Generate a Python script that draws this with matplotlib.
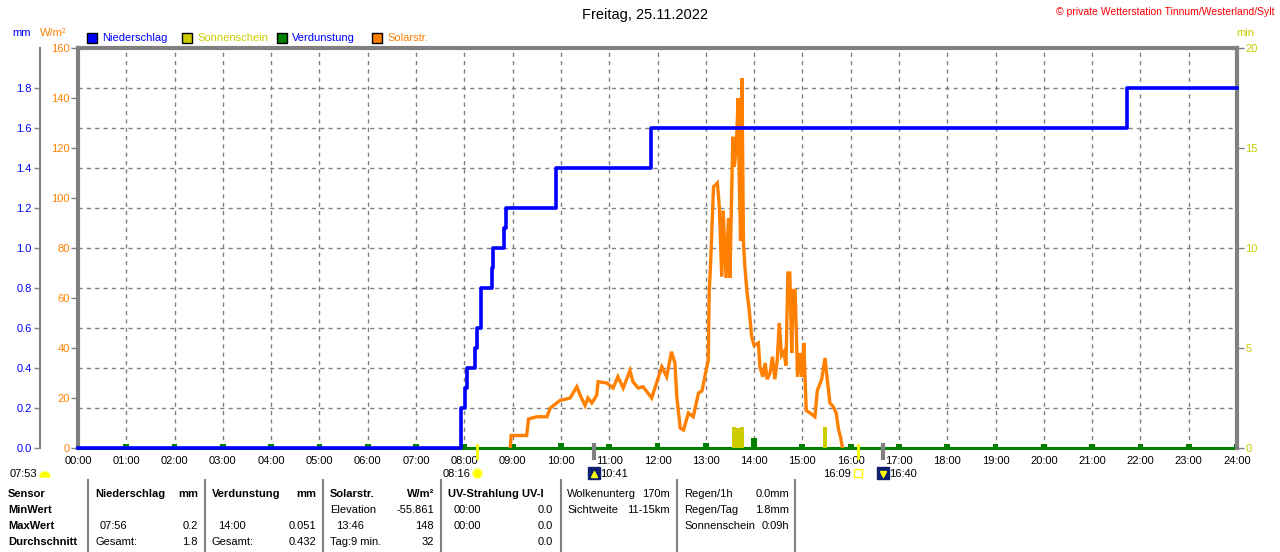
import numpy as np
import matplotlib
matplotlib.use('Agg')
import matplotlib.pyplot as plt
import matplotlib.patches as mpatches
import matplotlib.transforms as mtransforms

plt.rcParams['font.family'] = ['Liberation Sans', 'DejaVu Sans']

# ---- data -------------------------------------------------------------
hour_labels = ['%02d:00' % h for h in range(25)]
mm_ticks = [0.0, 0.2, 0.4, 0.6, 0.8, 1.0, 1.2, 1.4, 1.6, 1.8]
wm2_ticks = [0, 20, 40, 60, 80, 100, 120, 140, 160]
min_ticks = [0, 5, 10, 15, 20]

# Niederschlag (cumulative, mm)
rain_t = [0, 7.925, 8.01, 8.05, 8.22, 8.26, 8.34, 8.58, 8.60, 8.82, 8.86,
          9.89, 11.87, 21.72, 24]
rain_mm = [0, 0.2, 0.3, 0.4, 0.5, 0.6, 0.8, 0.9, 1.0, 1.1, 1.2,
           1.4, 1.6, 1.8, 1.8]

# Verdunstung per hour (mm)
evap_h = list(range(1, 25))
evap_mm = [0.02, 0.021, 0.021, 0.02, 0.021, 0.021, 0.02, 0.02, 0.022, 0.023,
           0.022, 0.023, 0.024, 0.051, 0.022, 0.021, 0.02, 0.02, 0.02, 0.02,
           0.02, 0.02, 0.02, 0.02]

# Sonnenschein (min)
sun_t = [13.59, 13.67, 13.75, 15.465]
sun_min = [1.05, 1.0, 1.05, 1.05]
sun_w = [0.08, 0.08, 0.08, 0.07]

# Solarstrahlung (W/m2)
sol_t = [8.95, 8.97, 9.29, 9.33, 9.50, 9.71, 9.78, 9.98, 10.19, 10.33, 10.40,
         10.50, 10.56, 10.64, 10.74, 10.77, 10.95, 11.08, 11.18, 11.29, 11.43,
         11.49, 11.60, 11.70, 11.88, 11.98, 12.09, 12.19, 12.29, 12.36, 12.40,
         12.47, 12.54, 12.64, 12.74, 12.85, 12.92, 12.98, 13.05, 13.07, 13.10,
         13.16, 13.24, 13.28, 13.33, 13.36, 13.42, 13.47, 13.50, 13.56, 13.59,
         13.63, 13.67, 13.69, 13.72, 13.75, 13.78, 13.81, 13.85, 13.90, 13.95,
         14.00, 14.09, 14.12, 14.18, 14.23, 14.27, 14.33, 14.38, 14.43, 14.48,
         14.52, 14.57, 14.62, 14.66, 14.70, 14.74, 14.78, 14.81, 14.85, 14.90,
         14.95, 14.99, 15.03, 15.08, 15.16, 15.26, 15.31, 15.40, 15.47, 15.50,
         15.57, 15.64, 15.70, 15.75, 15.79, 15.83]
sol_w = [0, 5, 5, 11.6, 12.5, 12.5, 16, 19, 20, 24.5, 21,
         17, 20, 18, 21, 26.5, 26, 24, 28.5, 24, 31,
         26.5, 24, 24.5, 20, 26, 32.5, 28.5, 38.5, 34, 20.5,
         8, 7.2, 14, 12.5, 22, 22.8, 28.5, 35, 62, 74,
         104.5, 106, 96.5, 68.5, 95, 68, 92, 68, 124.5, 112.5,
         120, 140, 110, 83, 148, 82, 72.5, 63, 55, 44.5,
         41, 42, 32.5, 28.5, 34, 27.5, 30, 36.5, 27.5, 35,
         50, 37, 38.5, 33, 70, 70, 38, 63, 63, 28.5,
         38, 28.5, 42, 15, 14, 12.5, 23, 27.5, 36, 30,
         18, 16.5, 14, 7.2, 4.5, 0]

# sun / moon events below the time axis
ev_t = [8 + 16 / 60, 10 + 41 / 60, 16 + 9 / 60, 16 + 40 / 60]
ev_lab = ['08:16', '10:41', '16:09', '16:40']
ev_col = ['#FFFF00', '#808080', '#FFFF00', '#808080']

BLUE = '#0000FF'
ORANGE = '#FF8000'
OLIVE = '#CCCC00'
GREEN = '#008000'
GREY = '#808080'

# ---- figure -----------------------------------------------------------
W, H = 1280, 552
fig = plt.figure(figsize=(W / 100, H / 100), dpi=100)
L, R, T, B = 78, 1237, 48, 448
rect = [L / W, 1 - B / H, (R - L) / W, (B - T) / H]

# base axes: mm scale, grid
axm = fig.add_axes(rect)
axm.set_xlim(0, 24)
axm.set_ylim(0, 2.0)
axm.set_yticks(mm_ticks)
axm.set_yticklabels(['%.1f' % v for v in mm_ticks])
axm.set_xticks(range(25))
axm.set_xticklabels(hour_labels)
axm.tick_params(axis='x', length=0, pad=6, labelsize=8)
axm.tick_params(axis='y', color=GREY, labelcolor=BLUE, length=4, width=1,
                labelsize=8, pad=2)
for s in ['top', 'right', 'bottom']:
    axm.spines[s].set_visible(False)
axm.spines['left'].set_position(('outward', 27.4))
axm.spines['left'].set_color(GREY)
axm.spines['left'].set_linewidth(1.5)
axm.grid(True, color=GREY, linestyle=(0, (3, 3)), linewidth=1)
axm.set_axisbelow(True)
axm.bar(evap_h, evap_mm, width=0.12, color=GREEN, zorder=3)
axm.axhline(0, color=GREEN, linewidth=2.2, clip_on=False, zorder=3)

# W/m2 axis on the left frame
axw = axm.twinx()
axw.set_ylim(0, 160)
axw.yaxis.tick_left()
axw.set_yticks(wm2_ticks)
axw.tick_params(axis='y', color=GREY, labelcolor=ORANGE, length=5, width=1,
                labelsize=8, pad=1)
for s in ['right', 'bottom']:
    axw.spines[s].set_visible(False)
for s in ['left', 'top']:
    axw.spines[s].set_visible(True)
    axw.spines[s].set_color(GREY)
    axw.spines[s].set_linewidth(3)
axw.plot(sol_t, sol_w, color=ORANGE, linewidth=2.4, solid_joinstyle='miter')

# Sonnenschein axis (min) on the right
axs = axm.twinx()
axs.set_ylim(0, 20)
axs.set_yticks(min_ticks)
axs.tick_params(axis='y', color=GREY, labelcolor=OLIVE, length=5, width=1,
                labelsize=8, pad=1)
for s in ['left', 'top', 'bottom']:
    axs.spines[s].set_visible(False)
axs.spines['right'].set_color(GREY)
axs.spines['right'].set_linewidth(3)
axs.bar(sun_t, sun_min, width=sun_w, color=OLIVE, zorder=2)

# top layer: Niederschlag line
axt = axm.twinx()
axt.set_ylim(0, 2.0)
axt.set_yticks([])
for s in axt.spines.values():
    s.set_visible(False)
axt.plot(rain_t, rain_mm, drawstyle='steps-post', color=BLUE, linewidth=2.6,
         clip_on=False)

# ---- overlay in pixel coordinates ---------------------------------------
ov = fig.add_axes([0, 0, 1, 1])
ov.set_xlim(0, W)
ov.set_ylim(H, 0)
ov.axis('off')
ov.patch.set_visible(False)

ov.text(645, 15, 'Freitag, 25.11.2022', ha='center', va='center', fontsize=10.5)
ov.text(1275, 12, '\u00a9 private Wetterstation Tinnum/Westerland/Sylt',
        ha='right', va='center', fontsize=7.5, color='#FF0000')
ov.text(22, 33, 'mm', ha='center', va='center', fontsize=8, color=BLUE)
ov.text(53, 33, 'W/m\u00b2', ha='center', va='center', fontsize=8, color=ORANGE)
ov.text(1245, 33, 'min', ha='center', va='center', fontsize=8, color=OLIVE)

leg = [('Niederschlag', BLUE, BLUE, 87), ('Sonnenschein', OLIVE, OLIVE, 182),
       ('Verdunstung', GREEN, BLUE, 277), ('Solarstr.', ORANGE, ORANGE, 372)]
for name, fc, tc, x in leg:
    ov.add_patch(mpatches.Rectangle((x, 33), 10, 10, facecolor=fc,
                                    edgecolor='black', linewidth=1))
    ov.text(x + 15, 38, name, ha='left', va='center', fontsize=8, color=tc)

# events below the axis
evtr = mtransforms.blended_transform_factory(axm.transData, ov.transData)
for t, lab, c in zip(ev_t, ev_lab, ev_col):
    ov.plot([t, t], [445, 458], color=c, linewidth=3 if c == GREY else 2,
            transform=evtr, clip_on=False)
    if c == GREY:
        ov.plot([t], [473], marker='s', markersize=8, color='#102070',
                transform=evtr)
        ov.plot([t], [474], marker='^' if lab == '10:41' else 'v',
                markersize=4, color='#FFFF00', transform=evtr)
        tt = mtransforms.offset_copy(evtr, fig=fig, x=6, y=0, units='dots')
        ov.text(t, 474, lab, ha='left', va='center', fontsize=8, transform=tt)
    else:
        if lab == '08:16':
            ov.plot([t], [473], marker='o', markersize=7, color='#FFFF00',
                    markeredgecolor='#FFFF80', transform=evtr)
        else:
            ov.plot([t], [473], marker='s', markersize=6, markerfacecolor='none',
                    markeredgecolor='#FFFF00', transform=evtr)
        tt = mtransforms.offset_copy(evtr, fig=fig, x=-7, y=0, units='dots')
        ov.text(t, 474, lab, ha='right', va='center', fontsize=8, transform=tt)

ov.text(10, 474, '07:53', ha='left', va='center', fontsize=8)
ov.add_patch(mpatches.Wedge((45, 477), 5, 180, 360, color='#FFFF00'))

# ---- table -------------------------------------------------------------
for x in [88, 205, 323, 441, 561, 677, 795]:
    ov.plot([x, x], [480, 552], color=GREY, linewidth=1.5)

rows_y = [494, 510, 526, 542]
for y, s in zip(rows_y, ['Sensor', 'MinWert', 'MaxWert', 'Durchschnitt']):
    ov.text(8, y, s, ha='left', va='center', fontsize=8, fontweight='bold')

cells = [
    # (x, y, text, align, bold)
    (95, 494, 'Niederschlag', 'left', True), (198, 494, 'mm', 'right', True),
    (212, 494, 'Verdunstung', 'left', True), (316, 494, 'mm', 'right', True),
    (330, 494, 'Solarstr.', 'left', True), (434, 494, 'W/m\u00b2', 'right', True),
    (448, 494, 'UV-Strahlung UV-I', 'left', True),
    (567, 494, 'Wolkenunterg', 'left', False), (670, 494, '170m', 'right', False),
    (684, 494, 'Regen/1h', 'left', False), (789, 494, '0.0mm', 'right', False),
    (330, 510, 'Elevation', 'left', False), (434, 510, '-55.861', 'right', False),
    (454, 510, '00:00', 'left', False), (553, 510, '0.0', 'right', False),
    (567, 510, 'Sichtweite', 'left', False), (670, 510, '11-15km', 'right', False),
    (684, 510, 'Regen/Tag', 'left', False), (789, 510, '1.8mm', 'right', False),
    (100, 526, '07:56', 'left', False), (198, 526, '0.2', 'right', False),
    (218, 526, '14:00', 'left', False), (316, 526, '0.051', 'right', False),
    (336, 526, '13:46', 'left', False), (434, 526, '148', 'right', False),
    (454, 526, '00:00', 'left', False), (553, 526, '0.0', 'right', False),
    (684, 526, 'Sonnenschein', 'left', False), (789, 526, '0:09h', 'right', False),
    (95, 542, 'Gesamt:', 'left', False), (198, 542, '1.8', 'right', False),
    (212, 542, 'Gesamt:', 'left', False), (316, 542, '0.432', 'right', False),
    (330, 542, 'Tag:9 min.', 'left', False), (434, 542, '32', 'right', False),
    (553, 542, '0.0', 'right', False),
]
for x, y, s, ha, bold in cells:
    ov.text(x, y, s, ha=ha, va='center', fontsize=8,
            fontweight='bold' if bold else 'normal')

fig.savefig('out.png', dpi=100)
